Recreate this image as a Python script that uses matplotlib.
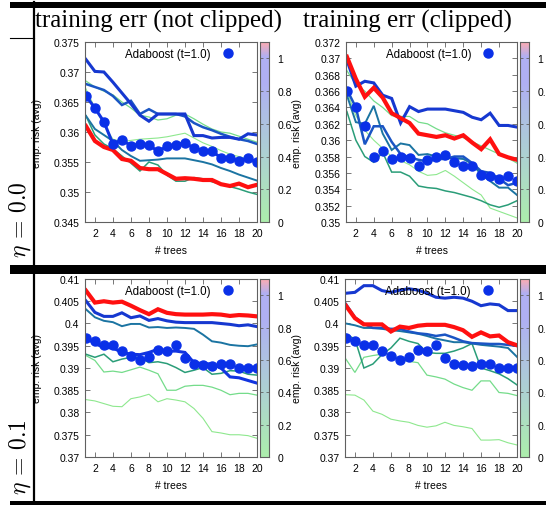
import numpy as np
import matplotlib
matplotlib.use('Agg')
import matplotlib.pyplot as plt
from matplotlib.colors import LinearSegmentedColormap
from matplotlib.ticker import FuncFormatter

plt.rcParams['font.family'] = ['Liberation Sans', 'DejaVu Sans']
plt.rcParams['mathtext.fontset'] = 'cm'

trees = list(range(1, 21))

# adaboost reference (same in both columns)
ada_eta00 = [0.3660, 0.3640, 0.3617, 0.3580, 0.3587, 0.3577, 0.3580, 0.3578, 0.3568, 0.3576,
             0.3579, 0.3582, 0.3573, 0.3569, 0.3568, 0.3557, 0.3556, 0.3552, 0.3556, 0.3550]
ada_eta01 = [0.3968, 0.3960, 0.3951, 0.3951, 0.3939, 0.3926, 0.3919, 0.3925, 0.3940, 0.3939,
             0.3951, 0.3923, 0.3910, 0.3907, 0.3905, 0.3910, 0.3909, 0.3900, 0.3899, 0.3900]

# eta = 0.0, not clipped
nc0_lg2 = [0.3672, 0.3640, 0.3612, 0.3588, 0.3584, 0.3586, 0.3588, 0.3589, 0.3590, 0.3592,
           0.3595, 0.3598, 0.3590, 0.3582, 0.3576, 0.3569, 0.3563, 0.3559, 0.3555, 0.3552]
nc0_lg1 = [0.3685, 0.3675, 0.3668, 0.3662, 0.3650, 0.3640, 0.3628, 0.3625, 0.3620, 0.3622,
           0.3628, 0.3630, 0.3622, 0.3613, 0.3605, 0.3600, 0.3598, 0.3593, 0.3588, 0.3583]
nc0_green = [0.3627, 0.3595, 0.3580, 0.3572, 0.3560, 0.3548, 0.3535, 0.3550, 0.3545, 0.3528,
             0.3518, 0.3518, 0.3524, 0.3522, 0.3517, 0.3513, 0.3509, 0.3505, 0.3500, 0.3496]
nc0_teal = [0.3627, 0.3605, 0.3595, 0.3585, 0.3570, 0.3560, 0.3552, 0.3553, 0.3554, 0.3556,
            0.3556, 0.3556, 0.3553, 0.3550, 0.3546, 0.3540, 0.3535, 0.3529, 0.3524, 0.3519]
nc0_blue_b = [0.3680, 0.3675, 0.3670, 0.3660, 0.3645, 0.3652, 0.3630, 0.3638, 0.3630, 0.3630,
              0.3630, 0.3626, 0.3615, 0.3608, 0.3603, 0.3597, 0.3592, 0.3588, 0.3585, 0.3580]
nc0_blue_a = [0.3721, 0.3701, 0.3700, 0.3683, 0.3665, 0.3647, 0.3628, 0.3618, 0.3630, 0.3630,
              0.3630, 0.3630, 0.3594, 0.3594, 0.3590, 0.3591, 0.3591, 0.3588, 0.3597, 0.3595]
nc0_blue_c = ada_eta00
nc0_red = [0.3610, 0.3585, 0.3575, 0.3570, 0.3555, 0.3552, 0.3540, 0.3538, 0.3538, 0.3530,
           0.3522, 0.3523, 0.3522, 0.3520, 0.3520, 0.3513, 0.3510, 0.3514, 0.3508, 0.3512]

# eta = 0.0, clipped
c0_lg2 = [0.3660, 0.3630, 0.3612, 0.3600, 0.3590, 0.3580, 0.3575, 0.3570, 0.3562, 0.3557,
          0.3558, 0.3563, 0.3556, 0.3548, 0.3540, 0.3533, 0.3517, 0.3513, 0.3509, 0.3505]
c0_lg1 = [0.3685, 0.3668, 0.3660, 0.3648, 0.3640, 0.3630, 0.3629, 0.3629, 0.3622, 0.3620,
          0.3614, 0.3609, 0.3606, 0.3603, 0.3598, 0.3593, 0.3588, 0.3583, 0.3578, 0.3572]
c0_green = [0.3635, 0.3600, 0.3580, 0.3573, 0.3585, 0.3561, 0.3561, 0.3556, 0.3544, 0.3542,
            0.3541, 0.3538, 0.3536, 0.3533, 0.3530, 0.3526, 0.3521, 0.3518, 0.3521, 0.3526]
c0_teal = [0.3655, 0.3622, 0.3620, 0.3642, 0.3608, 0.3588, 0.3596, 0.3594, 0.3582, 0.3583,
           0.3580, 0.3578, 0.3578, 0.3577, 0.3571, 0.3558, 0.3550, 0.3542, 0.3542, 0.3533]
c0_blue_b = [0.3662, 0.3640, 0.3595, 0.3617, 0.3617, 0.3598, 0.3583, 0.3579, 0.3576, 0.3574,
             0.3577, 0.3577, 0.3580, 0.3580, 0.3572, 0.3562, 0.3560, 0.3553, 0.3545, 0.3548]
c0_blue_a = [0.3698, 0.3666, 0.3672, 0.3670, 0.3655, 0.3651, 0.3621, 0.3641, 0.3635, 0.3638,
             0.3638, 0.3638, 0.3636, 0.3634, 0.3628, 0.3625, 0.3633, 0.3618, 0.3618, 0.3616]
c0_red = [0.3702, 0.3675, 0.3653, 0.3664, 0.3652, 0.3633, 0.3627, 0.3621, 0.3608, 0.3606,
          0.3604, 0.3606, 0.3602, 0.3606, 0.3597, 0.3589, 0.3601, 0.3583, 0.3579, 0.3576]

# eta = 0.1, not clipped
nc1_lg2 = [0.3829, 0.3826, 0.3820, 0.3814, 0.3813, 0.3831, 0.3835, 0.3841, 0.3824, 0.3831,
           0.3828, 0.3824, 0.3809, 0.3787, 0.3757, 0.3754, 0.3750, 0.3750, 0.3748, 0.3742]
nc1_lg1 = [0.3928, 0.3917, 0.3891, 0.3893, 0.3890, 0.3896, 0.3902, 0.3895, 0.3887, 0.3850,
           0.3850, 0.3859, 0.3861, 0.3861, 0.3857, 0.3850, 0.3840, 0.3843, 0.3843, 0.3839]
nc1_green = [0.3931, 0.3924, 0.3931, 0.3914, 0.3920, 0.3924, 0.3924, 0.3912, 0.3914, 0.3910,
             0.3901, 0.3890, 0.3895, 0.3901, 0.3886, 0.3888, 0.3894, 0.3893, 0.3886, 0.3884]
nc1_teal = [0.4032, 0.4014, 0.4006, 0.4003, 0.3994, 0.3999, 0.3999, 0.3991, 0.3992, 0.3990,
            0.3991, 0.3990, 0.3988, 0.3975, 0.3960, 0.3957, 0.3952, 0.3950, 0.3949, 0.3953]
nc1_blue_c = [0.3968, 0.3955, 0.3946, 0.3945, 0.3935, 0.3931, 0.3930, 0.3935, 0.3942, 0.3938,
              0.3938, 0.3935, 0.3912, 0.3910, 0.3909, 0.3900, 0.3880, 0.3878, 0.3872, 0.3866]
nc1_blue_a = [0.4051, 0.4025, 0.4016, 0.4016, 0.4024, 0.4013, 0.4017, 0.4007, 0.4011, 0.4006,
              0.4003, 0.4002, 0.4002, 0.4002, 0.4002, 0.4000, 0.3998, 0.3995, 0.3997, 0.3993]
nc1_red = [0.4074, 0.4047, 0.4050, 0.4047, 0.4049, 0.4040, 0.4030, 0.4021, 0.4032, 0.4024,
           0.4021, 0.4020, 0.4020, 0.4020, 0.4021, 0.4020, 0.4017, 0.4019, 0.4018, 0.4016]

# eta = 0.1, clipped
c1_lg2 = [0.3840, 0.3839, 0.3828, 0.3803, 0.3796, 0.3785, 0.3781, 0.3778, 0.3771, 0.3767,
          0.3770, 0.3778, 0.3771, 0.3768, 0.3764, 0.3738, 0.3738, 0.3739, 0.3732, 0.3727]
c1_lg1 = [0.3920, 0.3890, 0.3924, 0.3928, 0.3931, 0.3933, 0.3918, 0.3915, 0.3912, 0.3884,
          0.3880, 0.3875, 0.3864, 0.3856, 0.3850, 0.3871, 0.3871, 0.3845, 0.3843, 0.3838]
c1_green = [0.3976, 0.3965, 0.3900, 0.3909, 0.3930, 0.3945, 0.3967, 0.3960, 0.3955, 0.3935,
            0.3933, 0.3933, 0.3938, 0.3945, 0.3955, 0.3900, 0.3894, 0.3887, 0.3876, 0.3862]
c1_teal = [0.4000, 0.3996, 0.3990, 0.3990, 0.3988, 0.3985, 0.3983, 0.3980, 0.3977, 0.3972,
           0.3966, 0.3962, 0.3958, 0.3958, 0.3955, 0.3952, 0.3950, 0.3948, 0.3945, 0.3925]
c1_blue_b = [0.4044, 0.4014, 0.3999, 0.3990, 0.3990, 0.3988, 0.3988, 0.3982, 0.3978, 0.3976,
             0.3972, 0.3975, 0.3968, 0.3960, 0.3956, 0.3955, 0.3954, 0.3954, 0.3952, 0.3950]
c1_blue_a = [0.4068, 0.4070, 0.4085, 0.4085, 0.4074, 0.4070, 0.4075, 0.4078, 0.4075, 0.4068,
             0.4059, 0.4057, 0.4059, 0.4057, 0.4050, 0.4040, 0.4044, 0.4042, 0.4029, 0.4029]
c1_red = [0.4040, 0.4012, 0.3998, 0.3998, 0.3998, 0.3982, 0.3993, 0.3990, 0.3995, 0.3997,
          0.3997, 0.3997, 0.3992, 0.3985, 0.3970, 0.3980, 0.3971, 0.3973, 0.3958, 0.3951]

yticks_eta00_nc = [0.345, 0.35, 0.355, 0.36, 0.365, 0.37, 0.375]
yticks_eta00_c = [0.35, 0.352, 0.354, 0.356, 0.358, 0.36, 0.362, 0.364, 0.366, 0.368, 0.37, 0.372]
yticks_eta01 = [0.37, 0.375, 0.38, 0.385, 0.39, 0.395, 0.4, 0.405, 0.41]
xticks = [2, 4, 6, 8, 10, 12, 14, 16, 18, 20]
cbar_ticks = [0, 0.2, 0.4, 0.6, 0.8, 1]

col_titles = ['training err (not clipped)', 'training err (clipped)']
row_titles = [r'$\eta\,=\,0.0$', r'$\eta\,=\,0.1$']

# style for each line kind: colour, width
styles = {
    'lg2': ('#8ee88e', 0.8),
    'lg1': ('#74dc8a', 0.9),
    'green': ('#2a9d78', 1.1),
    'teal': ('#1b74a2', 1.4),
    'blue_b': ('#1a55c4', 1.8),
    'blue_c': ('#1234e0', 2.2),
    'blue_a': ('#1638d0', 2.2),
    'red': ('#ff1010', 3.0),
}

panels = [
    dict(lines=[('lg2', nc0_lg2), ('lg1', nc0_lg1), ('green', nc0_green), ('teal', nc0_teal),
                ('blue_b', nc0_blue_b), ('blue_c', nc0_blue_c), ('blue_a', nc0_blue_a), ('red', nc0_red)],
         ada=ada_eta00, ylim=(0.345, 0.375), yticks=yticks_eta00_nc, box=(85, 43, 257, 223)),
    dict(lines=[('lg2', c0_lg2), ('lg1', c0_lg1), ('green', c0_green), ('teal', c0_teal),
                ('blue_b', c0_blue_b), ('blue_a', c0_blue_a), ('red', c0_red)],
         ada=ada_eta00, ylim=(0.35, 0.372), yticks=yticks_eta00_c, box=(346, 43, 517, 223)),
    dict(lines=[('lg2', nc1_lg2), ('lg1', nc1_lg1), ('green', nc1_green), ('teal', nc1_teal),
                ('blue_c', nc1_blue_c), ('blue_a', nc1_blue_a), ('red', nc1_red)],
         ada=ada_eta01, ylim=(0.37, 0.41), yticks=yticks_eta01, box=(85, 280, 257, 458)),
    dict(lines=[('lg2', c1_lg2), ('lg1', c1_lg1), ('green', c1_green), ('teal', c1_teal),
                ('blue_b', c1_blue_b), ('blue_a', c1_blue_a), ('red', c1_red)],
         ada=ada_eta01, ylim=(0.37, 0.41), yticks=yticks_eta01, box=(345, 280, 517, 458)),
]

W, H = 546, 506
fig = plt.figure(figsize=(W / 100, H / 100), dpi=100)


def px_axes(x0, y0, x1, y1):
    return fig.add_axes([x0 / W, 1 - y1 / H, (x1 - x0) / W, (y1 - y0) / H])


cmap = LinearSegmentedColormap.from_list('gbr', [(0, '#18d018'), (0.36, '#1a8080'),
                                                 (0.78, '#2020e0'), (0.92, '#2020e0'), (1.0, '#f01830')])
frame_col = '#606060'
fmt = FuncFormatter(lambda v, p: '{:g}'.format(round(v, 4)))

for p in panels:
    x0, y0, x1, y1 = p['box']
    ax = px_axes(x0, y0, x1, y1)
    for kind, vals in p['lines']:
        c, lw = styles[kind]
        ax.plot(trees, vals, color=c, lw=lw, solid_joinstyle='miter')
    ax.plot(trees, p['ada'], 'o', color='#0a30e8', ms=6.5, lw=0, label='Adaboost (t=1.0)')
    ax.set_xlim(0.9, 20)
    ax.set_ylim(*p['ylim'])
    ax.set_xticks(xticks)
    ax.set_yticks(p['yticks'])
    ax.yaxis.set_major_formatter(fmt)
    ax.tick_params(direction='in', top=True, right=True, length=3.5, width=0.6,
                   color=frame_col, labelsize=7.5, pad=4)
    for s in ax.spines.values():
        s.set_color(frame_col)
        s.set_linewidth(0.8)
    ax.set_xlabel('# trees', fontsize=7.5)
    ax.set_ylabel('emp. risk (avg)', fontsize=7.5)
    ax.yaxis.set_label_coords((42 - x0) / (x1 - x0) if x0 < 200 else (302 - x0) / (x1 - x0), 0.5)
    ax.xaxis.set_label_coords(0.5, -0.13)
    ax.legend(loc='upper right', frameon=False, markerfirst=False, fontsize=8.3,
              handlelength=1.0, handletextpad=1.0, borderaxespad=0.1,
              bbox_to_anchor=(0.9, 1.0))

    # colour box
    cax = px_axes(x1 + 3, y0, x1 + 12, y1)
    grad = np.linspace(0, 1.1, 200).reshape(-1, 1)
    cax.imshow(grad, aspect='auto', origin='lower', extent=[0, 1, 0, 1.1],
               cmap=cmap, alpha=0.36, vmin=0, vmax=1.1)
    cax.set_xticks([])
    cax.set_yticks(cbar_ticks)
    cax.yaxis.set_major_formatter(fmt)
    cax.yaxis.tick_right()
    cax.tick_params(direction='in', left=True, right=True, length=2.5, width=0.6,
                    color=frame_col, labelsize=7.5, pad=6)
    for s in cax.spines.values():
        s.set_color(frame_col)
        s.set_linewidth(0.8)

# column titles
serif = ['Liberation Serif', 'DejaVu Serif']
fig.text(158 / W, 1 - 21 / H, col_titles[0], family=serif, fontsize=18, ha='center', va='center')
fig.text(407 / W, 1 - 21 / H, col_titles[1], family=serif, fontsize=18, ha='center', va='center')

# row labels (bottom aligned in their cells)
fig.text(20 / W, 1 - 258 / H, row_titles[0], fontsize=17, rotation=90, ha='center', va='bottom')
fig.text(20 / W, 1 - 495 / H, row_titles[1], fontsize=17, rotation=90, ha='center', va='bottom')

# table rules
lax = fig.add_axes([0, 0, 1, 1], zorder=-1)
lax.set_xlim(0, W)
lax.set_ylim(H, 0)
lax.axis('off')
lax.fill_between([10, W], 3, 9, color='black', lw=0)
lax.fill_between([10, W], 266, 275, color='black', lw=0)
lax.fill_between([10, W], 502, 506, color='black', lw=0)
lax.plot([33.5, 33.5], [3, 506], color='black', lw=1.6)
lax.plot([10, 33.5], [38.5, 38.5], color='black', lw=0.8)

fig.savefig('out.png', dpi=100)
